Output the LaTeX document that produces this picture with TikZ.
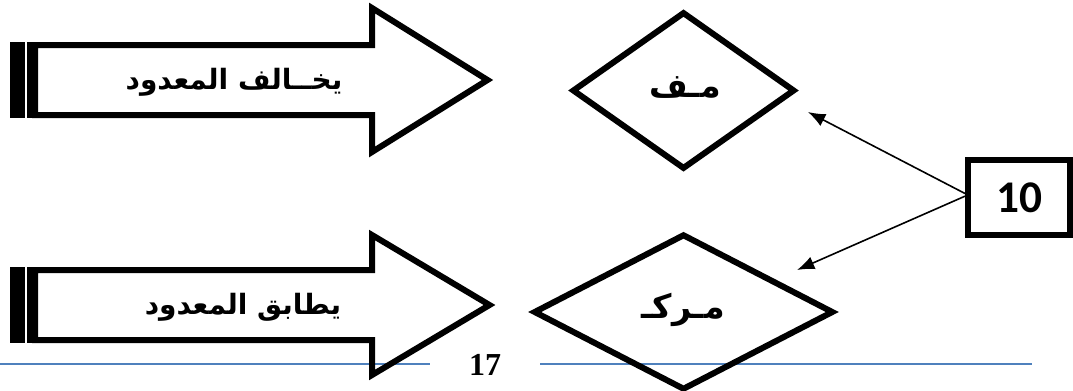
\documentclass[tikz,border=0pt]{standalone}
\usepackage{fontspec}
\usepackage{tikz}
\usetikzlibrary{arrows,arrows.meta,shapes.geometric,positioning}
\TeXXeTstate=1
\setmainfont{Liberation Serif}
\newfontfamily\arabicfont[Script=Arabic]{DejaVu Sans}
\newfontfamily\numfont{Carlito}
\definecolor{lineblue}{RGB}{79,129,189}

\begin{document}
\begin{tikzpicture}[
    x=0.75pt, y=-0.75pt,
    >={Latex[length=13pt,width=10pt]},
    block/.style={
		draw=black,
		line width=4.5pt
	},
	bar/.style={
		fill=black
	},
	choice/.style={
		diamond,
		draw=black,
		line width=4.5pt,
		inner sep=0pt
	},
	arlabel/.style={
		inner sep=0pt,
		font=\arabicfont\bfseries\fontsize{21}{25}\selectfont
	},
	dlabel/.style={
		inner sep=0pt,
		font=\arabicfont\bfseries\fontsize{25}{30}\selectfont
	},
	numbox/.style={
		rectangle,
		draw=black,
		line width=4.5pt,
		minimum width=76.5pt,
		minimum height=56pt,
		font=\numfont\bfseries\fontsize{34}{40}\selectfont
	},
	link/.style={
		->,
		line width=1.2pt
	},
	footer/.style={
		draw=lineblue,
		line width=1.1pt
	}
  ]
  \useasboundingbox (0,0) rectangle (1073,390);

  % page footer
  \node [inner sep=0pt, minimum width=82.5pt, font=\bfseries\fontsize{24}{28}\selectfont] (page) at (485,365) {17};
  \coordinate (footL) at (0,364);
  \coordinate (footR) at (1032,364);
  \draw [footer] (footL) -- (footL -| page.west);
  \draw [footer] (footR -| page.east) -- (footR);

  % block arrows
  \fill [bar] (10,42) rectangle (25,118);
  \fill [bar] (27,42) rectangle (38,118);
  \draw [block] (35,45) -- (372,45) -- (372,8) -- (487.5,80) -- (372,152) -- (372,115) -- (35,115) -- cycle;
  \node [arlabel] (differ) at (234,82) {\beginR يخــالف المعدود\endR};

  \fill [bar] (10,267) rectangle (25,343);
  \fill [bar] (27,267) rectangle (38,343);
  \draw [block] (35,270) -- (372,270) -- (372,235) -- (489.5,305) -- (372,375) -- (372,340) -- (35,340) -- cycle;
  \node [arlabel] (match) at (243,307) {\beginR يطابق المعدود\endR};

  % decisions
  \node [choice, minimum width=167pt, minimum height=118pt] (mf) at (683.5,90.5) {};
  \node [dlabel] (mflabel) at (685,88) {\beginR مـف\endR};
  \node [choice, minimum width=225pt, minimum height=117pt] (mrk) at (683.5,312) {};
  \node [dlabel] (mrklabel) at (683,310) {\beginR مـركـ\endR};

  % number box
  \node [numbox] (ten) at (1019,197.5) {10};
  \coordinate (tipA) at (808,112);
  \coordinate (tipB) at (797,270);
  \draw [link] ([yshift=3pt]ten.west) -- (tipA);
  \draw [link] ([yshift=1pt]ten.west) -- (tipB);

\end{tikzpicture}
\end{document}
